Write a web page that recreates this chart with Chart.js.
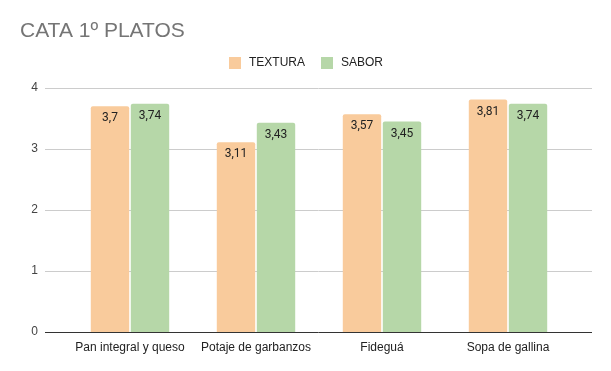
<!DOCTYPE html>
<html>
<head>
<meta charset="utf-8">
<script src="https://cdn.jsdelivr.net/npm/chart.js@4/dist/chart.umd.min.js"></script>
<style>
  html, body { margin: 0; padding: 0; background: #fff; }
  #wrap { width: 611px; height: 371px; position: relative; }
</style>
</head>
<body>
<div id="wrap"><canvas id="c" width="611" height="371"></canvas></div>
<script>
const chartTitle = 'CATA 1º PLATOS';
const categories = ['Pan integral y queso', 'Potaje de garbanzos', 'Fideguá', 'Sopa de gallina'];
const seriesNames = ['TEXTURA', 'SABOR'];
const texturaValues = [3.70, 3.11, 3.57, 3.81];
const saborValues = [3.74, 3.43, 3.45, 3.74];
const yTicks = [0, 1, 2, 3, 4];
const seriesColors = ['#f9cb9c', '#b6d7a8'];

const AXIS_FONT = 'Liberation Sans, Arial, sans-serif';

const gridPlugin = {
  id: 'wideGrid',
  beforeDatasetsDraw(chart) {
    const ctx = chart.ctx;
    const y = chart.scales.y;
    ctx.save();
    yTicks.forEach(v => {
      const py = Math.round(y.getPixelForValue(v)) + 0.5;
      ctx.beginPath();
      ctx.strokeStyle = v === 0 ? '#333333' : '#cccccc';
      ctx.lineWidth = 1;
      ctx.moveTo(45, py);
      ctx.lineTo(592, py);
      ctx.stroke();
    });
    ctx.restore();
  }
};

const labelPlugin = {
  id: 'barLabels',
  afterDatasetsDraw(chart) {
    const ctx = chart.ctx;
    ctx.save();
    ctx.font = '12px Roboto, sans-serif';
    ctx.fillStyle = '#222222';
    ctx.textAlign = 'center';
    ctx.textBaseline = 'middle';
    chart.data.datasets.forEach((ds, di) => {
      const meta = chart.getDatasetMeta(di);
      meta.data.forEach((bar, i) => {
        const txt = String(ds.data[i]).replace('.', ',');
        ctx.fillText(txt, bar.x, bar.y + 12);
      });
    });
    ctx.restore();
  }
};

const legendPlugin = {
  id: 'customLegend',
  afterDraw(chart) {
    const ctx = chart.ctx;
    ctx.save();
    ctx.font = '12px ' + AXIS_FONT;
    const box = 12, gap = 8, spacing = 16;
    const widths = seriesNames.map(n => box + gap + ctx.measureText(n).width);
    const total = widths.reduce((a, b) => a + b, 0) + spacing * (seriesNames.length - 1);
    let x = Math.round(306 - total / 2);
    const cy = 63;
    seriesNames.forEach((n, i) => {
      ctx.fillStyle = seriesColors[i];
      ctx.fillRect(x, cy - 6, box, box);
      ctx.fillStyle = '#222222';
      ctx.textAlign = 'left';
      ctx.textBaseline = 'middle';
      ctx.fillText(n, x + box + gap, cy);
      x += widths[i] + spacing;
    });
    ctx.restore();
  }
};

new Chart(document.getElementById('c'), {
  type: 'bar',
  data: {
    labels: categories,
    datasets: [
      { label: seriesNames[0], data: texturaValues, backgroundColor: seriesColors[0],
        borderRadius: { topLeft: 2, topRight: 2 }, borderSkipped: 'bottom',
        categoryPercentage: 0.635, barPercentage: 0.96 },
      { label: seriesNames[1], data: saborValues, backgroundColor: seriesColors[1],
        borderRadius: { topLeft: 2, topRight: 2 }, borderSkipped: 'bottom',
        categoryPercentage: 0.635, barPercentage: 0.96 }
    ]
  },
  options: {
    responsive: false,
    animation: false,
    devicePixelRatio: 1,
    layout: { padding: { left: 20, right: 40, top: 0, bottom: 0 } },
    plugins: {
      legend: { display: false },
      tooltip: { enabled: false },
      title: {
        display: true,
        text: chartTitle,
        align: 'start',
        color: '#757575',
        font: { family: AXIS_FONT, size: 21, weight: 'normal', lineHeight: 1.2 },
        padding: { top: 18.5, bottom: 44.3 }
      }
    },
    scales: {
      x: {
        grid: { display: false, drawTicks: false },
        border: { display: false },
        ticks: { color: '#222222', font: { family: AXIS_FONT, size: 12 }, padding: 8, maxRotation: 0, autoSkip: false },
        afterFit(scale) { scale.height = 39; }
      },
      y: {
        min: 0, max: 4,
        grid: { display: false, drawTicks: false },
        border: { display: false },
        ticks: { stepSize: 1, color: '#444444', font: { family: AXIS_FONT, size: 12 }, padding: 29 },
        afterFit(scale) { scale.width = 47; }
      }
    }
  },
  plugins: [gridPlugin, labelPlugin, legendPlugin]
});
</script>
</body>
</html>
